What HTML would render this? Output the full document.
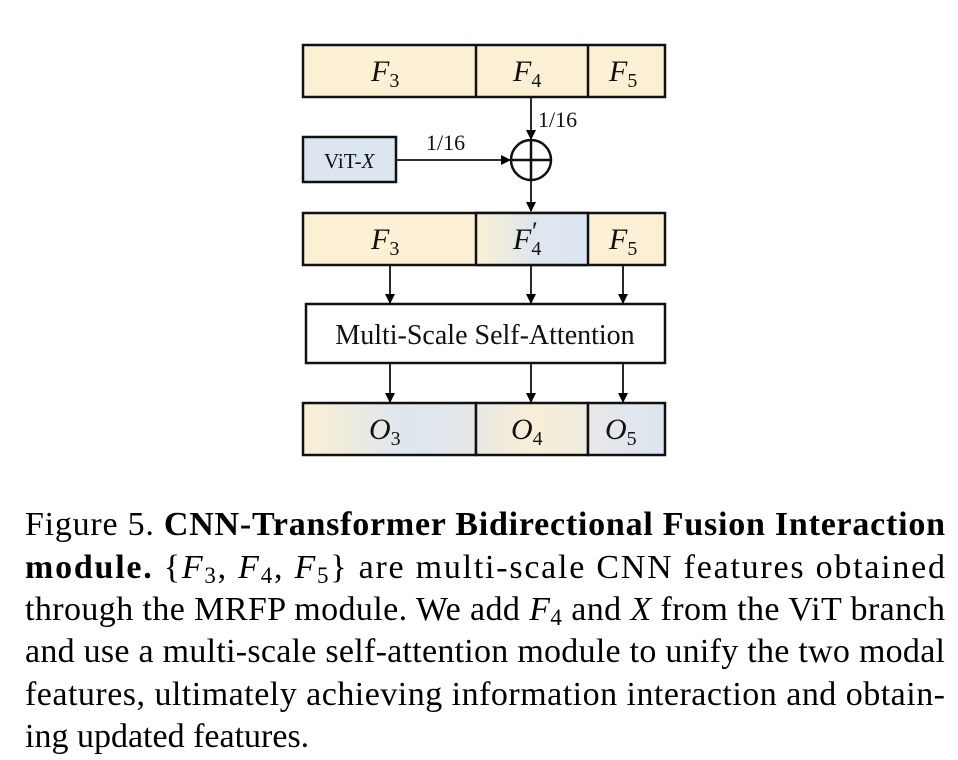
<!DOCTYPE html>
<html><head><meta charset="utf-8"><style>
html,body{margin:0;padding:0;background:#fff;}
svg{display:block;}
</style></head><body>
<svg width="958" height="760" viewBox="0 0 958 760" xmlns="http://www.w3.org/2000/svg">
<defs>
<marker id="ah" markerWidth="10" markerHeight="10" refX="9" refY="5" orient="auto" markerUnits="userSpaceOnUse">
<path d="M0,0 L10,5 L0,10 z" fill="#000"/></marker>
<linearGradient id="g4" x1="0" x2="1" y1="0" y2="0"><stop offset="0" stop-color="#fbf0d3"/><stop offset="0.5" stop-color="#dfe6ee"/><stop offset="1" stop-color="#dce6f1"/></linearGradient>
<linearGradient id="go3" x1="0" x2="1" y1="0" y2="0"><stop offset="0" stop-color="#fbefd2"/><stop offset="0.6" stop-color="#dde6ef"/><stop offset="1" stop-color="#e6e8e8"/></linearGradient>
<linearGradient id="go4" x1="0" x2="1" y1="0" y2="0"><stop offset="0" stop-color="#e8e8e4"/><stop offset="0.5" stop-color="#f8eed6"/><stop offset="1" stop-color="#eeebe0"/></linearGradient>
<linearGradient id="go5" x1="0" x2="1" y1="0" y2="0"><stop offset="0" stop-color="#e8e8e8"/><stop offset="1" stop-color="#dbe5f0"/></linearGradient>
</defs>
<g stroke="#111" stroke-width="2.5">
<rect x="303" y="45" width="362" height="52" fill="#fbf0d3"/>
<line x1="476" y1="45" x2="476" y2="97"/><line x1="588" y1="45" x2="588" y2="97"/>
<rect x="303" y="137" width="93" height="45" fill="#dce6f1"/>
<rect x="303" y="213" width="362" height="52" fill="#fbf0d3"/>
<rect x="476" y="213" width="112" height="52" fill="url(#g4)"/>
<rect x="306" y="304" width="359" height="59" fill="#fff"/>
<rect x="303" y="403" width="173" height="52" fill="url(#go3)"/>
<rect x="476" y="403" width="112" height="52" fill="url(#go4)"/>
<rect x="588" y="403" width="77" height="52" fill="url(#go5)"/>
<circle cx="531" cy="160" r="20" fill="none"/>
<line x1="511" y1="160" x2="551" y2="160"/><line x1="531" y1="140" x2="531" y2="180"/>
</g>
<g stroke="#111" stroke-width="1.8" marker-end="url(#ah)">
<line x1="531" y1="97" x2="531" y2="139"/>
<line x1="396" y1="160" x2="510" y2="160"/>
<line x1="531" y1="181" x2="531" y2="211"/>
<line x1="390" y1="265" x2="390" y2="303"/>
<line x1="531" y1="265" x2="531" y2="303"/>
<line x1="623" y1="265" x2="623" y2="303"/>
<line x1="390" y1="364" x2="390" y2="402"/>
<line x1="531" y1="364" x2="531" y2="402"/>
<line x1="623" y1="364" x2="623" y2="402"/>
</g>
<g font-family="Liberation Serif, serif" fill="#111">
<g font-style="italic" font-size="30">
<text x="371" y="81">F<tspan font-size="20" font-style="normal" dy="6">3</tspan></text>
<text x="513" y="81">F<tspan font-size="20" font-style="normal" dy="6">4</tspan></text>
<text x="609" y="81">F<tspan font-size="20" font-style="normal" dy="6">5</tspan></text>
<text x="371" y="249">F<tspan font-size="20" font-style="normal" dy="6">3</tspan></text>
<text x="513" y="249">F<tspan font-size="20" font-style="normal" dy="6">4</tspan></text>
<text x="532" y="240" font-size="26" font-style="normal">′</text>
<text x="609" y="249">F<tspan font-size="20" font-style="normal" dy="6">5</tspan></text>
<text x="369" y="439">O<tspan font-size="20" font-style="normal" dy="6">3</tspan></text>
<text x="511" y="439">O<tspan font-size="20" font-style="normal" dy="6">4</tspan></text>
<text x="605" y="439">O<tspan font-size="20" font-style="normal" dy="6">5</tspan></text>
</g>
<text x="324" y="168" font-size="21">ViT-<tspan font-style="italic">X</tspan></text>
<text x="426" y="150" font-size="22">1/16</text>
<text x="538" y="127" font-size="22">1/16</text>
<text x="485" y="344" font-size="28" text-anchor="middle">Multi-Scale Self-Attention</text>
</g>
<g font-family="Liberation Serif, serif" fill="#000" font-size="34">
<text x="25" y="535" textLength="920" lengthAdjust="spacing">Figure 5.  <tspan font-weight="bold">CNN-Transformer Bidirectional Fusion Interaction</tspan></text>
<text x="25" y="578" textLength="920" lengthAdjust="spacing"><tspan font-weight="bold">module.</tspan>  {<tspan font-style="italic">F</tspan><tspan font-size="23" dy="5">3</tspan><tspan dy="-5">,  </tspan><tspan font-style="italic">F</tspan><tspan font-size="23" dy="5">4</tspan><tspan dy="-5">,  </tspan><tspan font-style="italic">F</tspan><tspan font-size="23" dy="5">5</tspan><tspan dy="-5">} are multi-scale CNN features obtained</tspan></text>
<text x="25" y="620" textLength="920" lengthAdjust="spacing">through the MRFP module. We add <tspan font-style="italic">F</tspan><tspan font-size="23" dy="5">4</tspan><tspan dy="-5"> and </tspan><tspan font-style="italic">X</tspan> from the ViT branch</text>
<text x="25" y="662" textLength="920" lengthAdjust="spacing">and use a multi-scale self-attention module to unify the two modal</text>
<text x="25" y="705" textLength="920" lengthAdjust="spacing">features, ultimately achieving information interaction and obtain-</text>
<text x="25" y="747">ing updated features.</text>
</g>
</svg>
</body></html>
